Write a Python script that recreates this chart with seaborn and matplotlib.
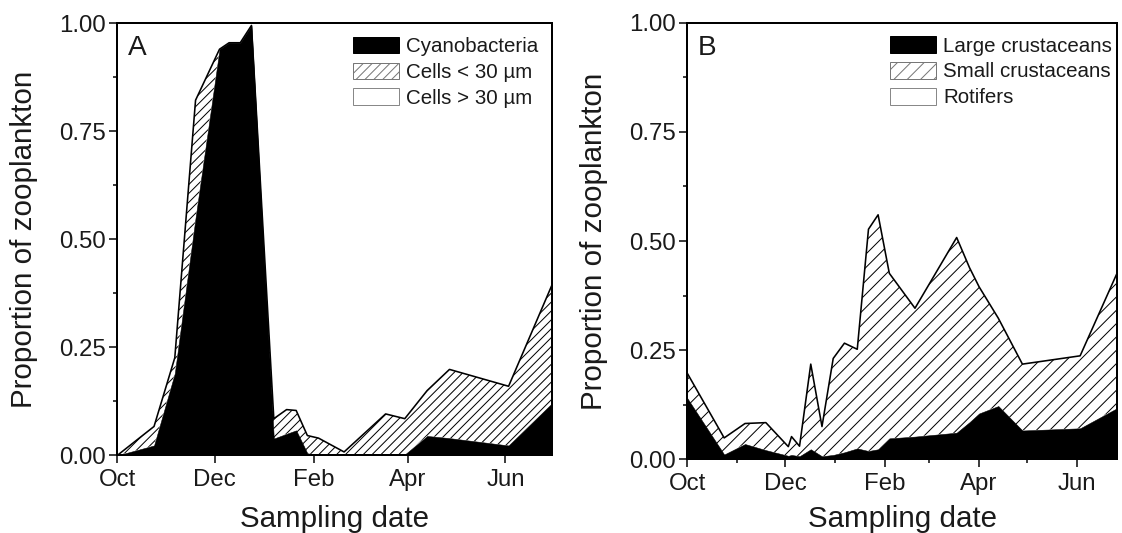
import numpy as np
import matplotlib
matplotlib.use("Agg")
import matplotlib.pyplot as plt
import seaborn as sns
from matplotlib.patches import Patch
from matplotlib.ticker import MultipleLocator, FormatStrFormatter

DPI = 80
W, H = 1122, 533


def pt(px):
    return px * 72.0 / DPI


# ---------------- data (days since 1 October) ----------------
month_ticks = [0, 61, 123, 182, 243]
month_labels = ["Oct", "Dec", "Feb", "Apr", "Jun"]
minor_month_ticks = [31, 92, 151, 212]  # Nov, Jan, Mar, May

# Panel A
days_a = [0, 23, 36, 49, 64, 70, 77, 84, 98, 106, 112, 119, 126, 142, 168, 180, 194, 208, 245, 272]
cyanobacteria = [0.00, 0.023, 0.19, 0.55, 0.94, 0.955, 0.955, 0.995, 0.039, 0.050, 0.058, 0.005,
                 0.00, 0.00, 0.00, 0.002, 0.045, 0.040, 0.023, 0.120]
cells_small = [0.00, 0.044, 0.036, 0.272, 0.00, 0.00, 0.00, 0.00, 0.046, 0.056, 0.046, 0.041,
               0.040, 0.008, 0.096, 0.083, 0.105, 0.159, 0.137, 0.273]
cells_large = [1.00, 0.933, 0.774, 0.178, 0.060, 0.045, 0.045, 0.005, 0.915, 0.894, 0.896, 0.954,
               0.960, 0.992, 0.904, 0.915, 0.850, 0.801, 0.840, 0.607]
labels_a = ["Cyanobacteria", "Cells < 30 \u00b5m", "Cells > 30 \u00b5m"]

# Panel B
days_b = [0, 23, 36, 49, 63, 65, 70, 77, 84, 91, 98, 106, 113, 119, 126, 142, 168, 176, 182, 194,
          209, 245, 268]
large_crust = [0.140, 0.011, 0.035, 0.021, 0.008, 0.010, 0.007, 0.023, 0.007, 0.010, 0.016, 0.025,
               0.019, 0.023, 0.048, 0.052, 0.061, 0.085, 0.105, 0.122, 0.066, 0.071, 0.117]
small_crust = [0.057, 0.038, 0.047, 0.063, 0.021, 0.042, 0.023, 0.195, 0.068, 0.221, 0.250, 0.227,
               0.508, 0.537, 0.378, 0.294, 0.447, 0.354, 0.290, 0.201, 0.152, 0.166, 0.309]
rotifers = [0.803, 0.951, 0.918, 0.916, 0.971, 0.948, 0.970, 0.782, 0.925, 0.769, 0.734, 0.748,
            0.473, 0.440, 0.574, 0.654, 0.492, 0.561, 0.605, 0.677, 0.782, 0.763, 0.574]
labels_b = ["Large crustaceans", "Small crustaceans", "Rotifers"]

# ---------------- style ----------------
sns.set_theme(style="ticks")
plt.rcParams["font.family"] = ["Liberation Sans", "DejaVu Sans"]
plt.rcParams["hatch.linewidth"] = pt(1.0)
plt.rcParams["axes.linewidth"] = pt(2.0)

fig = plt.figure(figsize=(W / DPI, H / DPI), dpi=DPI)


def fax(l, t, r, b):
    return fig.add_axes([l / W, 1 - b / H, (r - l) / W, (b - t) / H])


ax_a = fax(117.3, 23.3, 551.7, 455.4)
ax_b = fax(687.3, 22.7, 1117.0, 459.3)


def draw_panel(ax, days, s1, s2, s3, labels, hatch, xmax, letter, minor_x, leg_x, xlabelpad):
    days = np.asarray(days, float)
    c1 = np.asarray(s1)
    c2 = c1 + np.asarray(s2)
    c3 = c2 + np.asarray(s3)
    ax.fill_between(days, 0, c1, facecolor="black", edgecolor="black", linewidth=pt(0.5), zorder=2)
    ax.fill_between(days, c1, c2, facecolor="white", edgecolor="black", hatch=hatch,
                    linewidth=0, zorder=1)
    ax.fill_between(days, c2, c3, facecolor="white", edgecolor="none", zorder=0)
    sns.lineplot(x=days, y=c2, ax=ax, color="black", linewidth=pt(1.6), estimator=None,
                 sort=False, legend=False, zorder=3)
    ax.set_xlim(0, xmax)
    ax.set_ylim(0, 1)
    ax.set_xticks(month_ticks)
    ax.set_xticklabels(month_labels)
    if minor_x:
        ax.set_xticks(minor_month_ticks, minor=True)
    ax.yaxis.set_major_locator(MultipleLocator(0.25))
    ax.yaxis.set_minor_locator(MultipleLocator(0.125))
    ax.yaxis.set_major_formatter(FormatStrFormatter("%.2f"))
    ax.tick_params(which="major", direction="out", length=pt(8), width=pt(1.5),
                   labelsize=pt(24), pad=pt(3), color="black", labelcolor="#1a1a1a")
    ax.tick_params(axis="x", which="major", pad=pt(6))
    ax.tick_params(which="minor", direction="out", length=pt(4), width=pt(1.5), color="black")
    ax.tick_params(axis="x", which="minor", bottom=minor_x)
    for s in ax.spines.values():
        s.set_visible(True)
        s.set_color("black")
        s.set_zorder(5)
    ax.set_xlabel("Sampling date", fontsize=pt(29.5), labelpad=pt(xlabelpad), color="#1a1a1a")
    ax.set_ylabel("Proportion of zooplankton", fontsize=pt(29.5), labelpad=pt(22),
                  color="#1a1a1a")
    ax.text(0.025, 0.972, letter, transform=ax.transAxes, fontsize=pt(28), va="top", ha="left",
            color="#1a1a1a", zorder=6)
    handles = [
        Patch(facecolor="black", edgecolor="black", linewidth=pt(1)),
        Patch(facecolor="white", edgecolor="#777777", hatch=hatch, linewidth=pt(1)),
        Patch(facecolor="white", edgecolor="#888888", linewidth=pt(1)),
    ]
    leg = ax.legend(handles, labels, loc="upper left", bbox_to_anchor=(leg_x, 0.969),
                    frameon=False, fontsize=pt(20.5), handlelength=2.25, handleheight=0.86,
                    handletextpad=0.35, labelspacing=0.32, borderpad=0.0, borderaxespad=0.0)
    for t in leg.get_texts():
        t.set_color("#1a1a1a")


draw_panel(ax_a, days_a, cyanobacteria, cells_small, cells_large, labels_a, "///", 272, "A",
           False, 0.5426, 14)
draw_panel(ax_b, days_b, large_crust, small_crust, rotifers, labels_b, "//", 268, "B",
           True, 0.4717, 10)

fig.savefig("out.png", dpi=DPI, facecolor="white")
